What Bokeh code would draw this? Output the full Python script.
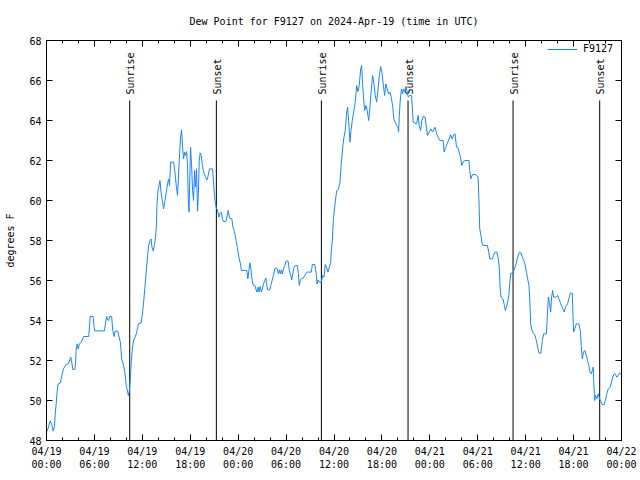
from datetime import datetime, timedelta
from math import pi

from bokeh.plotting import figure
from bokeh.models import (DatetimeAxis, LinearAxis, FixedTicker, DatetimeTickFormatter,
                          Range1d, Legend, LegendItem, ColumnDataSource)
from bokeh.core.properties import value
from bokeh.embed import file_html
from bokeh.resources import INLINE

# ---------------- data ----------------
start_time = datetime(2024, 4, 19, 0, 0)

hours = [
    0.09, 0.25, 0.46, 0.66, 0.84, 1.0, 1.09, 1.21, 1.34, 1.46, 1.71, 1.84, 1.96, 2.13, 2.25, 2.46,
    2.75, 2.91, 3.04, 3.16, 3.29, 3.54, 3.63, 3.71, 3.84, 3.96, 4.13, 4.34, 4.54, 4.66, 5.29, 5.38,
    5.46, 5.84, 5.96, 6.04, 7.25, 7.41, 7.54, 7.66, 7.79, 7.91, 8.16, 8.29, 8.46, 8.59, 8.91, 9.09,
    9.25, 9.41, 9.59, 9.75, 9.88, 10.0, 10.13, 10.25, 10.38, 10.5, 10.63, 10.75, 10.91, 11.09, 11.25,
    11.38, 11.5, 11.84, 12.0, 12.16, 12.38, 12.54, 12.66, 12.79, 12.96, 13.09, 13.21, 13.38, 13.5,
    13.63, 13.75, 13.84, 13.96, 14.09, 14.21, 14.34, 14.5, 14.66, 14.84, 15.0, 15.16, 15.29, 15.41,
    15.54, 15.91, 16.04, 16.16, 16.29, 16.41, 16.54, 16.66, 16.79, 16.91, 17.04, 17.16, 17.29, 17.41,
    17.54, 17.66, 17.75, 17.84, 17.96, 18.04, 18.16, 18.29, 18.41, 18.54, 18.66, 18.79, 18.91, 19.0,
    19.13, 19.25, 19.38, 19.5, 19.63, 19.75, 19.91, 20.09, 20.25, 20.41, 20.79, 20.88, 21.0, 21.13,
    21.25, 21.41, 21.59, 21.75, 21.91, 22.04, 22.16, 22.46, 22.63, 22.75, 22.91, 23.21, 23.34, 23.5,
    23.63, 23.75, 23.88, 24.0, 24.13, 24.29, 24.41, 24.75, 25.09, 25.21, 25.34, 25.46, 25.59, 25.75,
    25.91, 26.09, 26.21, 26.34, 26.5, 26.63, 26.75, 26.91, 27.04, 27.16, 27.34, 27.46, 27.59, 27.71,
    27.96, 28.09, 28.25, 28.41, 28.59, 28.75, 28.91, 29.04, 29.16, 29.29, 29.41, 29.54, 29.66, 29.84,
    30.0, 30.25, 30.41, 30.59, 30.71, 30.84, 31.0, 31.16, 31.41, 31.54, 31.66, 31.79, 31.91, 32.16,
    32.34, 32.5, 32.66, 33.16, 33.29, 33.59, 33.75, 33.88, 34.0, 34.16, 34.41, 34.59, 34.75, 34.91,
    35.09, 35.25, 35.41, 35.59, 35.66, 35.79, 35.91, 36.13, 36.34, 36.54, 36.75, 36.91, 37.09, 37.25,
    37.41, 37.59, 37.71, 37.88, 38.0, 38.13, 38.29, 38.46, 38.66, 38.84, 39.0, 39.16, 39.34, 39.46,
    39.59, 39.71, 39.84, 40.0, 40.16, 40.34, 40.5, 40.66, 40.84, 41.0, 41.16, 41.34, 41.5, 41.66,
    41.84, 42.0, 42.16, 42.34, 42.5, 42.66, 42.84, 43.0, 43.16, 43.34, 43.5, 43.66, 43.84, 44.0,
    44.09, 44.21, 44.34, 44.46, 44.59, 44.71, 44.88, 45.0, 45.13, 45.29, 45.5, 45.71, 45.84, 45.91,
    46.34, 46.54, 46.66, 46.84, 47.0, 47.16, 47.41, 47.59, 47.71, 47.91, 48.13, 48.34, 48.66, 48.84,
    49.04, 49.25, 49.66, 49.79, 49.91, 50.16, 50.41, 50.59, 50.79, 51.0, 51.16, 51.34, 51.5, 51.66,
    51.84, 52.0, 52.16, 52.41, 52.91, 53.0, 53.13, 53.34, 53.75, 54.04, 54.16, 54.25, 54.41, 54.54,
    54.66, 55.21, 55.38, 55.5, 55.84, 56.0, 56.16, 56.41, 56.54, 56.71, 56.79, 56.91, 57.16, 57.34,
    57.46, 57.59, 57.75, 57.91, 58.04, 58.16, 58.41, 58.59, 58.75, 58.91, 59.09, 59.25, 59.41, 59.59,
    59.75, 59.91, 60.09, 60.25, 60.41, 60.5, 60.63, 60.79, 60.96, 61.13, 61.34, 61.5, 61.66, 61.91,
    62.09, 62.25, 62.59, 62.71, 62.84, 63.0, 63.13, 63.25, 63.38, 63.5, 63.75, 64.0, 64.16, 64.41,
    64.66, 64.84, 65.0, 65.25, 65.41, 65.59, 65.84, 65.91, 66.0, 66.16, 66.34, 66.66, 66.84, 66.96,
    67.09, 67.25, 67.41, 67.59, 67.75, 67.91, 68.04, 68.21, 68.34, 68.46, 68.54, 68.63, 68.75, 68.91,
    69.09, 69.25, 69.41, 69.59, 69.84, 70.0, 70.16, 70.34, 70.59, 70.75, 70.91, 71.09, 71.25, 71.41,
    71.59, 71.75, 71.91,
]

dew_point = [
    48.47, 48.67, 48.97, 48.8, 48.47, 48.7, 49.3, 49.83, 50.5, 50.83, 50.87, 51.08, 51.33, 51.58, 51.67, 51.8,
    51.83, 52.03, 52.17, 51.92, 51.55, 51.55, 51.83, 52.5, 52.83, 52.58, 52.83, 52.92, 53.08, 53.2, 53.2, 53.67,
    54.2, 54.2, 53.67, 53.48, 53.48, 53.92, 54.2, 54.03, 54.0, 54.2, 54.2, 53.5, 53.2, 53.47, 53.47, 53.17,
    52.92, 52.08, 51.83, 51.58, 51.17, 50.7, 50.5, 50.25, 50.5, 51.13, 52.0, 52.58, 53.03, 53.17, 53.33,
    53.58, 53.83, 53.87, 54.3, 54.92, 55.92, 56.67, 57.25, 57.75, 58.0, 58.08, 57.67, 57.47, 57.75,
    58.08, 58.67, 59.83, 60.5, 60.75, 61.0, 60.42, 60.0, 59.58, 60.0, 60.42, 60.83, 61.08, 60.75,
    61.92, 61.92, 61.58, 61.08, 60.58, 60.25, 61.33, 62.33, 63.17, 63.53, 62.67, 62.08, 62.42, 62.25,
    62.45, 61.75, 60.17, 59.42, 61.33, 62.67, 61.83, 60.5, 60.0, 61.5, 60.67, 61.58, 59.47, 60.17,
    62.0, 62.38, 62.25, 61.83, 61.5, 61.33, 61.17, 61.03, 61.25, 61.58, 61.58, 61.08, 60.42, 59.92,
    59.63, 59.53, 59.17, 59.37, 59.4, 59.08, 58.95, 58.95, 59.25, 59.5, 59.12, 59.08, 58.67, 58.5,
    58.25, 57.97, 57.7, 57.37, 57.08, 56.83, 56.5, 56.5, 56.5, 56.08, 56.5, 56.88, 56.58, 56.0,
    55.75, 55.75, 55.58, 55.42, 55.67, 55.42, 55.7, 55.42, 55.58, 55.83, 56.0, 56.12, 55.75, 55.53,
    55.53, 55.75, 56.0, 56.25, 56.58, 56.63, 56.58, 56.33, 56.53, 56.33, 56.53, 56.33, 56.58, 56.75,
    56.97, 56.97, 56.5, 56.25, 56.03, 56.33, 56.67, 56.75, 56.75, 56.33, 55.75, 56.03, 56.08, 56.12,
    56.25, 56.37, 56.42, 56.42, 56.8, 56.8, 56.42, 55.83, 56.03, 55.92, 55.92, 56.25, 56.17, 56.8,
    56.63, 56.42, 56.67, 56.92, 57.5, 58.0, 59.0, 59.83, 60.5, 60.55, 60.92, 61.83, 62.67, 63.17,
    63.5, 64.42, 64.67, 63.67, 62.92, 63.5, 64.0, 64.42, 64.92, 65.75, 65.45, 65.75, 66.58, 66.75,
    65.75, 65.08, 64.5, 64.75, 64.5, 64.0, 64.67, 65.5, 66.25, 65.83, 65.25, 64.92, 65.5, 66.17,
    66.7, 66.42, 65.83, 65.25, 65.83, 65.58, 65.33, 65.42, 65.17, 64.75, 64.08, 63.92, 63.75, 63.67,
    63.42, 64.5, 65.25, 65.58, 65.33, 65.58, 65.42, 65.7, 65.5, 65.17, 65.25, 65.25, 64.42, 63.92,
    63.83, 64.25, 63.75, 63.5, 64.0, 64.2, 64.17, 63.58, 63.25, 63.42, 63.58, 63.42, 63.67, 63.33,
    63.17, 63.0, 63.0, 62.42, 62.58, 62.83, 63.08, 63.3, 63.08, 63.3, 63.33, 62.67, 62.67, 62.42,
    62.17, 61.75, 61.92, 62.0, 62.0, 61.5, 61.08, 61.3, 61.3, 61.17, 59.92, 58.58, 58.25, 57.83,
    57.75, 57.75, 57.42, 57.08, 57.08, 57.3, 57.42, 57.42, 57.17, 56.58, 55.67, 55.17, 55.08, 54.75,
    54.5, 54.67, 54.92, 55.33, 56.0, 56.37, 56.37, 56.58, 56.75, 57.03, 57.3, 57.42, 57.37, 57.17,
    57.0, 56.83, 56.42, 56.08, 55.75, 55.17, 53.83, 53.5, 53.37, 53.3, 53.0, 52.67, 52.37, 52.37,
    53.0, 53.33, 53.33, 54.17, 55.17, 54.83, 54.42, 55.17, 55.5, 55.17, 55.17, 55.25, 55.08, 54.83,
    54.58, 54.42, 54.7, 54.83, 55.08, 55.37, 55.37, 54.42, 53.42, 53.58, 53.83, 53.83, 53.5, 52.75,
    52.08, 52.42, 52.5, 52.25, 52.0, 51.75, 51.42, 51.33, 51.5, 51.67, 50.83, 50.0, 50.25, 50.08,
    50.33, 50.08, 49.97, 49.8, 49.8, 50.08, 50.33, 50.58, 50.67, 50.92, 51.17, 51.33, 51.3, 51.17,
    51.25, 51.37, 51.33,
]

sun_event_hours = [10.42, 21.27, 34.42, 45.27, 58.42, 69.27]
sun_event_labels = ["Sunrise", "Sunset", "Sunrise", "Sunset", "Sunrise", "Sunset"]
sun_line_top = 65.0

y_ticks = [48, 50, 52, 54, 56, 58, 60, 62, 64, 66, 68]
x_major_tick_hours = list(range(0, 73, 6))
x_minor_tick_hours = list(range(0, 73, 2))

series_name = "F9127"
title_text = "Dew Point for F9127 on 2024-Apr-19 (time in UTC)"
y_label = "degrees F"

# ---------------- helpers ----------------
EPOCH = datetime(1970, 1, 1)


def to_ms(h):
    return (start_time + timedelta(hours=h) - EPOCH).total_seconds() * 1000.0


times = [start_time + timedelta(hours=h) for h in hours]
sun_times = [start_time + timedelta(hours=h) for h in sun_event_hours]

FONT = "DejaVu Sans Mono"
FS = "10px"
LINE_COLOR = "#1a86ff"

p = figure(
    width=640, height=480,
    x_axis_type=None, y_axis_type=None,
    x_range=Range1d(to_ms(0), to_ms(72)),
    y_range=Range1d(48, 68),
    output_backend="svg", toolbar_location=None,
    min_border_left=46, min_border_right=19, min_border_top=40, min_border_bottom=40,
    background_fill_color="white", border_fill_color="white",
)
p.grid.visible = False
p.outline_line_color = "black"
p.outline_line_width = 1

fmt = "%m/%d\n%H:%M"
x_formatter = DatetimeTickFormatter(
    minutes=fmt, hourmin=fmt, hours=fmt, days=fmt, months=fmt, years=fmt,
)


def x_ticker():
    return FixedTicker(ticks=[to_ms(h) for h in x_major_tick_hours],
                       minor_ticks=[to_ms(h) for h in x_minor_tick_hours])


def style_axis(ax, show_labels=True):
    ax.axis_line_color = "black"
    ax.major_tick_line_color = "black"
    ax.minor_tick_line_color = "black"
    ax.major_tick_in = 6
    ax.major_tick_out = 0
    ax.minor_tick_in = 3
    ax.minor_tick_out = 0
    ax.major_label_text_font = FONT
    ax.major_label_text_font_size = FS if show_labels else "0px"
    ax.major_label_text_color = "black"
    ax.major_label_standoff = 5 if show_labels else 0
    ax.axis_label_text_font = FONT
    ax.axis_label_text_font_size = FS
    ax.axis_label_text_font_style = "normal"
    ax.axis_label_text_color = "black"


bottom = DatetimeAxis(ticker=x_ticker(), formatter=x_formatter)
style_axis(bottom)
p.add_layout(bottom, "below")

top = DatetimeAxis(ticker=x_ticker(), formatter=x_formatter)
style_axis(top, show_labels=False)
p.add_layout(top, "above")

left = LinearAxis(ticker=FixedTicker(ticks=y_ticks, minor_ticks=[]), axis_label=y_label)
style_axis(left)
left.minor_tick_line_color = None
left.axis_label_standoff = 10
p.add_layout(left, "left")

right = LinearAxis(ticker=FixedTicker(ticks=y_ticks, minor_ticks=[]))
style_axis(right, show_labels=False)
right.minor_tick_line_color = None
p.add_layout(right, "right")

# title
p.title.text = title_text
p.title.align = "center"
p.title.text_font = FONT
p.title.text_font_size = FS
p.title.text_font_style = "normal"
p.title.text_color = "black"
p.title.standoff = 27

# sunrise / sunset markers
sun_src = ColumnDataSource(dict(x=sun_times, label=sun_event_labels,
                                y0=[y_ticks[0]] * len(sun_times),
                                y1=[sun_line_top] * len(sun_times)))
p.segment(x0="x", y0="y0", x1="x", y1="y1", source=sun_src, line_color="black", line_width=1)
p.text(x="x", y="y1", text="label", source=sun_src, angle=pi / 2,
       text_align="left", text_baseline="middle", x_offset=1, y_offset=-6,
       text_font=value(FONT), text_font_size=FS, text_color="black")

# series
src = ColumnDataSource(dict(t=times, v=dew_point))
line_r = p.line(x="t", y="v", source=src, line_color=LINE_COLOR, line_width=1)

legend = Legend(items=[LegendItem(label=series_name, renderers=[line_r])],
                location=(499, 384))
legend.label_text_font = FONT
legend.label_text_font_size = FS
legend.label_text_color = "black"
legend.glyph_width = 30
legend.glyph_height = 10
legend.label_standoff = 6
legend.padding = 2
legend.margin = 0
legend.spacing = 0
legend.border_line_alpha = 0
legend.background_fill_alpha = 0
p.add_layout(legend)

open("out.html", "w").write(file_html(p, INLINE))
